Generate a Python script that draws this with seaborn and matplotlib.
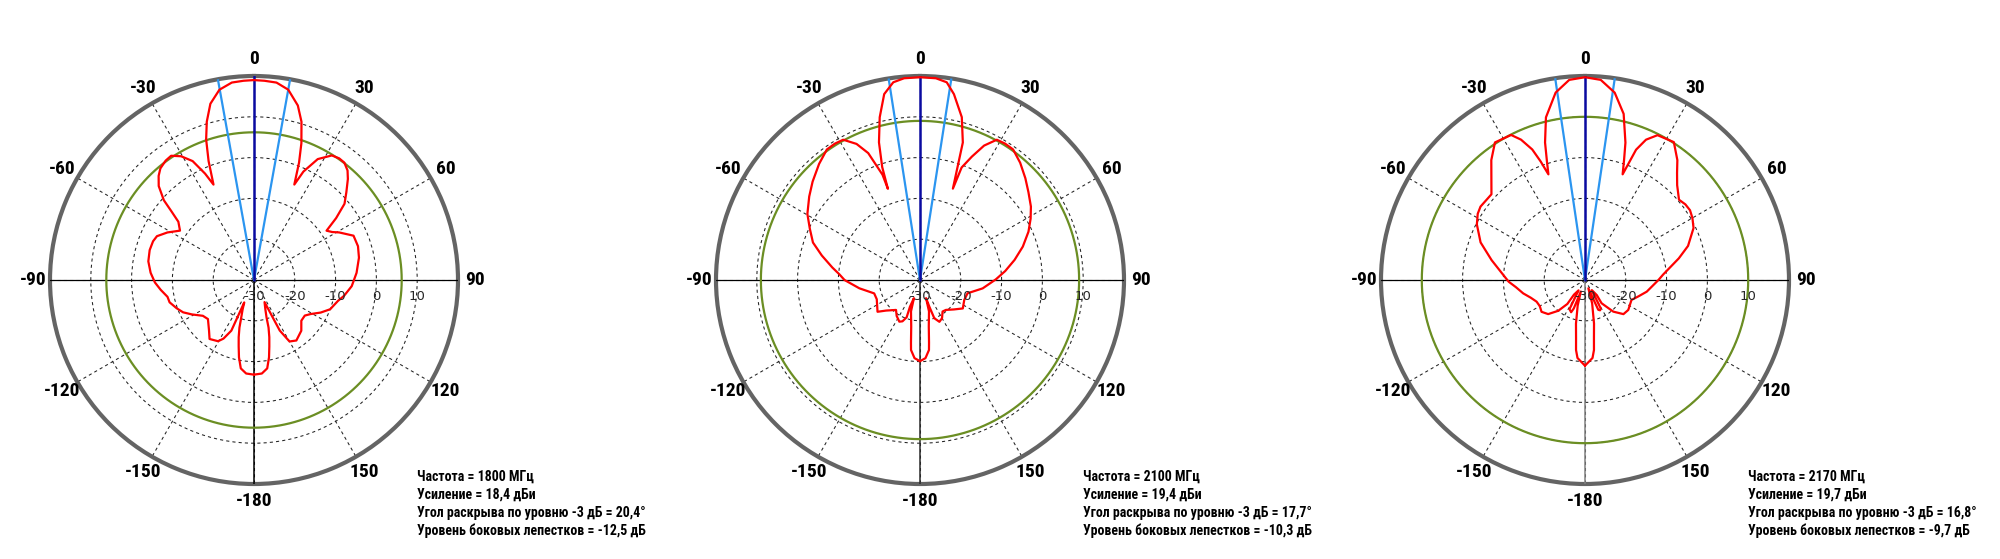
import numpy as np
import matplotlib
matplotlib.use("Agg")
import matplotlib.pyplot as plt
import matplotlib.transforms as mtransforms
import seaborn as sns

# ---------------- data ----------------
# pattern 1 : 1800 MHz (angle in degrees clockwise from boresight, level in dBi)
ang_1800 = [-180, -175.2, -171.5, -169, -167, -165, -163, -161.2, -158.8, -156.5,
            -155.9, -152.5, -149.6, -143, -138.4, -130.3, -125, -119, -114.5, -110,
            -104.8, -101, -96, -91.4, -86, -80, -74, -69, -65.7, -61.2,
            -56.3, -52.4, -50.2, -48.5, -45.4, -42.5, -40, -36.5, -33.7, -30.5,
            -27.3, -24.7, -23, -20.9, -18.8, -16.6, -13.9, -10.3, -6.4, -3,
            0, 3, 6.5, 10.2, 14.1, 16.7, 19.1, 21, 22.9, 24.5,
            27.8, 32, 35, 37.6, 40.5, 42.9, 46.5, 49.9, 53, 55.8,
            58.5, 60.8, 66, 72, 78, 86, 93.6, 100, 104, 111,
            116, 121, 125, 130.7, 137, 145, 150, 153, 154.5, 158.8,
            161.5, 163, 165, 167, 169, 171.5, 175.2, 180]
db_1800 = [-6.8, -7.0, -8.1, -10.7, -13.3, -15.5, -17.8, -20.3, -22.3, -24.0,
           -16.4, -13.8, -12.6, -11.9, -13.4, -15.2, -14.7, -12.6, -10.9, -9.8,
           -8.6, -8.4, -7.0, -5.7, -4.6, -3.7, -3.4, -3.5, -3.9, -5.8,
           -8.2, -6.6, -3.6, -0.5, 2.8, 4.6, 5.7, 6.4, 6.6, 5.2,
           2.8, -1.3, -4.6, 1.2, 6.4, 10.5, 14.5, 17.4, 18.7, 18.9,
           19.0, 18.9, 18.7, 17.4, 14.1, 10.5, 5.5, 0.8, -4.6, -0.8,
           3.5, 6.0, 6.4, 6.3, 5.3, 3.8, 1.2, -1.0, -4.8, -8.5,
           -7.5, -6.1, -3.3, -3.2, -3.7, -4.8, -6.0, -7.6, -8.8, -10.0,
           -11.8, -13.8, -14.8, -14.7, -13.0, -11.9, -12.6, -16.1, -24.0, -22.3,
           -20.3, -17.8, -15.5, -13.3, -10.7, -8.1, -7.0, -6.8]

# pattern 2 : 2100 MHz
ang_2100 = [-180, -176, -172.7, -171.8, -169.3, -164, -161.5, -159.4, -160.3, -157,
            -153.6, -147, -141.3, -132, -126.8, -114, -106.3, -97.8, -90, -86,
            -81.9, -76, -70.7, -65, -59.6, -53, -47.5, -41, -35.5, -32,
            -28.7, -25, -22.2, -19.6, -19.4, -18.5, -16.6, -13.9, -10.9, -7.7,
            -4.5, 0, 4.5, 7.7, 10.35, 14.4, 17.3, 18.4, 19.8, 20.3,
            22.8, 25.5, 28.7, 32, 35.5, 40.5, 46, 51, 56.5, 61,
            66, 72, 78, 84, 89.5, 97.6, 105.6, 114.3, 123.6, 131,
            139.1, 144.4, 150, 155.1, 159.5, 160.7, 161.5, 164, 169.3, 171.8,
            172.7, 176, 180]
db_2100 = [-10.1, -10.8, -12.7, -14.5, -18.4, -22.0, -25.3, -23.0, -20.3, -19.0,
           -18.6, -19.5, -20.6, -18.8, -17.0, -18.4, -18.3, -15.0, -11.5, -10.2,
           -8.3, -5.2, -2.2, -0.2, 2.0, 4.0, 5.7, 7.7, 9.3, 9.4,
           9.2, 6.8, 3.6, -2.6, -6.3, -0.8, 5.2, 11.1, 16.4, 18.9,
           19.6, 19.7, 19.6, 18.9, 16.3, 11.2, 5.3, -0.9, -6.2, -0.6,
           2.8, 6.5, 9.2, 9.4, 9.3, 7.8, 5.9, 4.2, 2.6, 1.0,
           -0.9, -3.5, -6.3, -9.0, -11.4, -14.5, -17.9, -18.1, -17.4, -19.0,
           -20.3, -20.5, -19.2, -18.7, -20.0, -23.1, -25.3, -22.0, -18.4, -14.5,
           -12.7, -10.8, -10.1]

# pattern 3 : 2170 MHz
ang_2170 = [-180, -174.5, -172.7, -171.3, -168.3, -164, -160, -158.5, -156.7, -152,
            -148, -143, -143.6, -139, -132.8, -126.2, -120, -114.1, -108, -102.2,
            -96, -91.3, -88.7, -78, -70.2, -62.8, -58.3, -54.9, -47.5, -42.6,
            -38, -33.2, -27, -24.5, -22, -20.5, -19.1, -17.8, -16.2, -13.5,
            -8.9, -4.5, 0, 4.5, 9, 13.1, 16.4, 18, 19.6, 20.5,
            21.4, 23.5, 26.6, 32.8, 37.6, 40.7, 44.2, 49.5, 53, 56.4,
            60, 64.4, 71.7, 77, 86, 90, 100.7, 107, 113.2, 124.7,
            131.6, 138.2, 144.5, 142, 146, 151, 153.5, 156, 158, 163,
            168.3, 171.3, 172.7, 174.5, 180]
db_2170 = [-9.0, -10.8, -12.7, -15.5, -19.1, -23.5, -27.0, -22.5, -21.4, -21.9,
           -27.0, -25.5, -22.7, -20.0, -17.7, -16.8, -17.2, -17.0, -16.0, -14.5,
           -13.0, -11.3, -10.6, -6.6, -2.8, -0.2, 0.9, 1.3, 1.1, 3.9,
           7.3, 10.3, 9.9, 7.8, 4.5, 1.0, -2.6, 0.5, 5.1, 11.0,
           16.5, 19.2, 19.7, 19.2, 16.5, 11.8, 5.1, 1.0, -2.5, 0.5,
           4.3, 7.5, 9.7, 10.2, 7.1, 4.6, 2.4, 0.3, 0.8, 0.9,
           0.4, -0.5, -3.4, -6.4, -10.8, -12.0, -14.6, -16.3, -17.6, -17.1,
           -17.4, -19.6, -23.0, -25.3, -27.0, -22.1, -21.7, -22.0, -27.8, -24.0,
           -19.1, -15.5, -12.7, -10.8, -9.0]

angles = [ang_1800, ang_2100, ang_2170]
levels = [db_1800, db_2100, db_2170]

freqs = ["1800", "2100", "2170"]
gains = ["18,4", "19,4", "19,7"]
beamwidth = [20.4, 17.7, 16.8]
beamwidth_txt = ["20,4", "17,7", "16,8"]
sidelobe_txt = ["-12,5", "-10,3", "-9,7"]
sidelobe_ring = [6.2, 9.0, 10.0]          # drawn sidelobe reference circle, dBi
vline_colors = ["#000000", "#2a2a2a", "#808080"]

r_ticks = [-30, -20, -10, 0, 10]
r_grid = [-20, -10, 0, 10]
theta_ticks = [0, 30, 60, 90, 120, 150, 180, 210, 240, 270, 300, 330]
theta_labels = ["0", "30", "60", "90", "120", "150", "-180", "-150", "-120", "-90", "-60", "-30"]
R_MIN, R_MAX = -30, 20

# ---------------- style ----------------
sns.set_theme(style="white")
plt.rcParams["font.family"] = ["Roboto Condensed", "DejaVu Sans"]

W, H = 2000, 559
fig = plt.figure(figsize=(W / 100, H / 100), dpi=100)
fig.patch.set_facecolor("white")

centers_px = [(254, 280), (920, 280), (1585, 280)]
R_PX = 204
text_dx = 163
text_y = [476.5, 494.5, 512.5, 530.5]

for i in range(3):
    cx, cy = centers_px[i]
    ax = fig.add_axes([(cx - R_PX) / W, (H - cy - R_PX) / H, 2 * R_PX / W, 2 * R_PX / H],
                      projection="polar")
    ax.set_facecolor("white")
    ax.set_theta_zero_location("N")
    ax.set_theta_direction(-1)
    ax.set_ylim(R_MIN, R_MAX)
    ax.set_xticks(np.deg2rad(theta_ticks))
    ax.set_xticklabels([])
    ax.set_yticks(r_grid)
    ax.set_yticklabels([])
    ax.xaxis.grid(True, color="#222222", linestyle=(0, (3, 3)), linewidth=0.75)
    ax.yaxis.grid(True, color="#222222", linestyle=(0, (3, 3)), linewidth=0.75)
    ax.tick_params(pad=0, length=0)
    ax.spines["polar"].set_color("#646464")
    ax.spines["polar"].set_linewidth(3.0)

    # solid axis lines
    ax.plot([np.pi / 2, np.pi / 2], [R_MIN, R_MAX], color="black", lw=0.9, zorder=3)
    ax.plot([-np.pi / 2, -np.pi / 2], [R_MIN, R_MAX], color="black", lw=0.9, zorder=3)
    ax.plot([np.pi, np.pi], [R_MIN, R_MAX], color=vline_colors[i], lw=1.1, zorder=3)

    # sidelobe level ring
    ring_t = np.deg2rad(np.arange(0, 361, 1))
    sns.lineplot(x=ring_t, y=np.full(ring_t.shape, sidelobe_ring[i]), ax=ax, sort=False,
                 estimator=None, color="#6b8e23", lw=1.6, zorder=4)

    # beamwidth lines
    hb = np.deg2rad(beamwidth[i] / 2)
    for t in (-hb, hb):
        ax.plot([t, t], [R_MIN, R_MAX], color="#2b95f0", lw=1.6, zorder=5)
    ax.plot([0, 0], [R_MIN, R_MAX], color="#0a0aa0", lw=1.8, zorder=6)

    # pattern
    sns.lineplot(x=np.deg2rad(angles[i]), y=levels[i], ax=ax, sort=False, estimator=None,
                 color="#ff0000", lw=1.6, zorder=7)
    ax.set_xlabel("")
    ax.set_ylabel("")
    ax.set_ylim(R_MIN, R_MAX)

    # angle labels
    for t, lab in zip(theta_ticks, theta_labels):
        ax.text(np.deg2rad(t), 24.2, lab, ha="center", va="center", fontsize=14,
                fontweight="bold", color="black", clip_on=False)

    # radial labels (below the 90° axis)
    off = mtransforms.offset_copy(ax.transData, fig=fig, x=0, y=-16, units="dots")
    for r in r_ticks:
        ax.text(np.pi / 2, r, str(r), transform=off, ha="center", va="center",
                fontsize=9.5, color="#262626", family=["DejaVu Sans"], zorder=8)

    # info block
    lines = [f"Частота = {freqs[i]} МГц",
             f"Усиление = {gains[i]} дБи",
             f"Угол раскрыва по уровню -3 дБ = {beamwidth_txt[i]}°",
             f"Уровень боковых лепестков = {sidelobe_txt[i]} дБ"]
    for ln, ty in zip(lines, text_y):
        fig.text((cx + text_dx) / W, 1 - ty / H, ln, ha="left", va="center",
                 fontsize=10, fontweight="bold", color="black")

fig.savefig("out.png", dpi=100, facecolor="white")
